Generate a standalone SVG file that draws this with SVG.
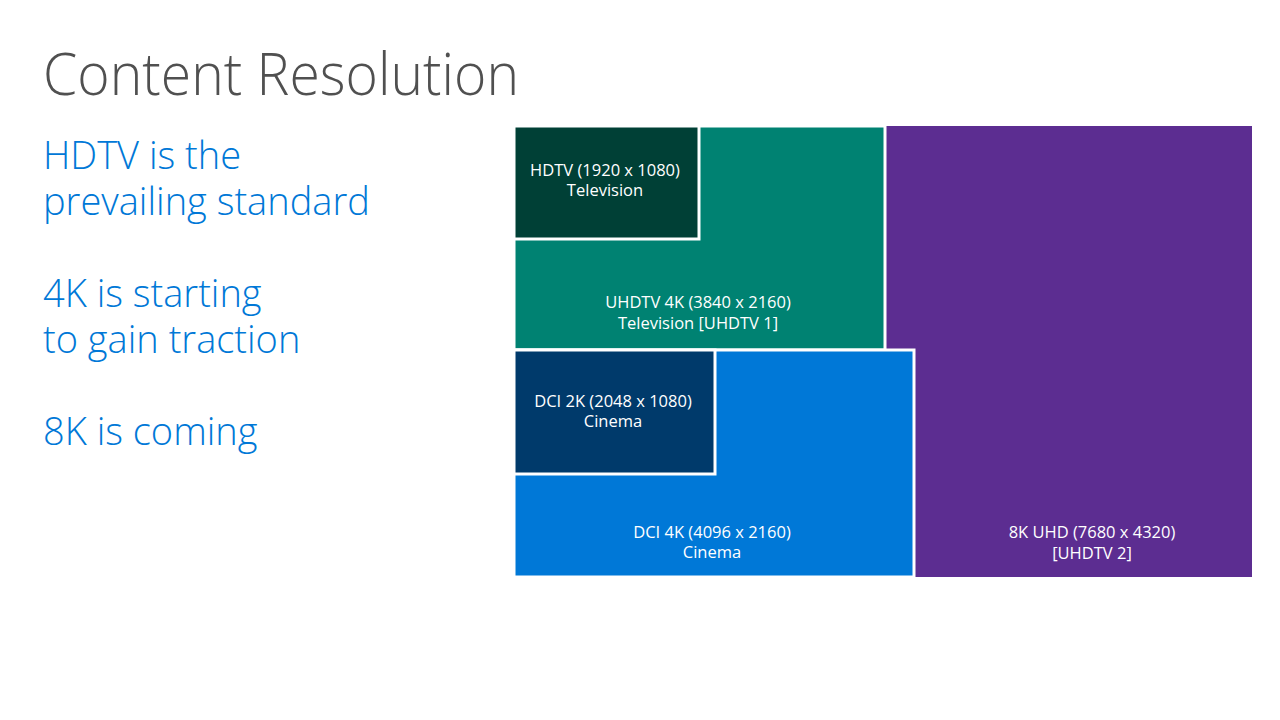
<svg xmlns="http://www.w3.org/2000/svg" width="1280" height="720" viewBox="0 0 1280 720">
<style>
.b{stroke:#fff;stroke-width:3}
.l{font-family:"Open Sans","Noto Sans",sans-serif;font-size:16.5px;fill:#fff;text-anchor:middle}
.s{font-family:"Open Sans","Noto Sans",sans-serif;font-weight:300;font-size:38px;fill:#0078D7}
</style>
<rect width="1280" height="720" fill="#fff"/>
<text x="43" y="95" font-family="Open Sans,Noto Sans,sans-serif" font-weight="300" font-size="58" fill="#505050" textLength="476" lengthAdjust="spacingAndGlyphs">Content Resolution</text>
<g id="bullets">
<text class="s" x="43" y="169">HDTV is the</text>
<text class="s" x="43" y="215">prevailing standard</text>
<text class="s" x="43" y="307">4K is starting</text>
<text class="s" x="43" y="353">to gain traction</text>
<text class="s" x="43" y="445">8K is coming</text>
</g>
<g id="n8k"><rect x="514" y="126" width="738" height="451" fill="#5C2D91"/>
<text class="l" x="1092" y="538">8K UHD (7680 x 4320)</text><text class="l" x="1092" y="559">[UHDTV 2]</text></g>
<g id="nuhd"><rect class="b" x="514" y="126" width="371" height="224" fill="#008272"/>
<text class="l" x="698" y="308">UHDTV 4K (3840 x 2160)</text><text class="l" x="698" y="329">Television [UHDTV 1]</text></g>
<g id="nhd"><rect class="b" x="514" y="126" width="185" height="113" fill="#004036"/>
<text class="l" x="605" y="176">HDTV (1920 x 1080)</text><text class="l" x="605" y="196">Television</text></g>
<g id="ndci4"><rect class="b" x="514" y="350" width="400" height="227" fill="#0078D7"/>
<text class="l" x="712" y="538">DCI 4K (4096 x 2160)</text><text class="l" x="712" y="558">Cinema</text></g>
<g id="ndci2"><rect class="b" x="514" y="350" width="201" height="124" fill="#003A6B"/>
<text class="l" x="613" y="407">DCI 2K (2048 x 1080)</text><text class="l" x="613" y="427">Cinema</text></g>
<rect x="505" y="120" width="9" height="460" fill="#fff"/>
<rect x="505" y="120" width="760" height="6" fill="#fff"/>
<rect x="505" y="577" width="760" height="6" fill="#fff"/>
<g id="connectors"/>
</svg>
